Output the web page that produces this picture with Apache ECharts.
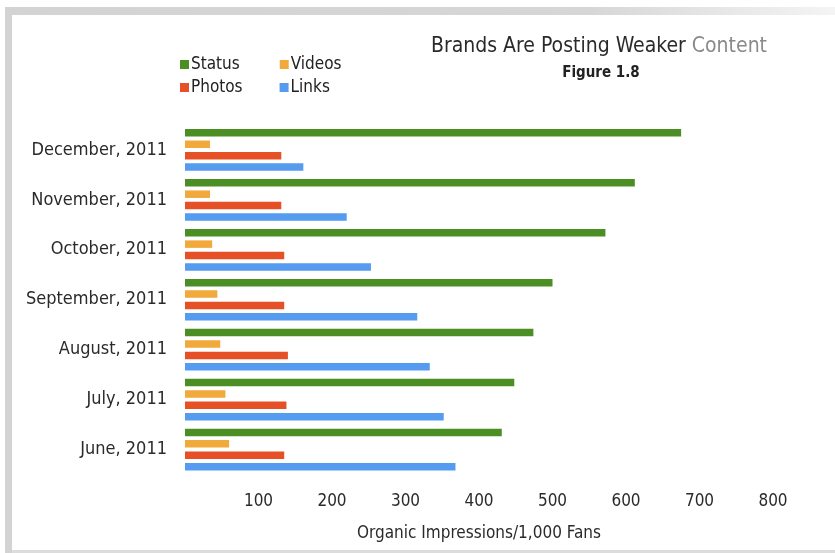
<!DOCTYPE html>
<html>
<head>
<meta charset="utf-8">
<script src="https://cdn.jsdelivr.net/npm/echarts@6/dist/echarts.min.js"></script>
<style>
  html, body { margin: 0; padding: 0; background: #fff; }
  #chart { width: 835px; height: 553px; }
</style>
</head>
<body>
<div id="chart"></div>
<script>
// Monthly organic impressions per 1,000 fans, by post type
const months = ['December, 2011', 'November, 2011', 'October, 2011', 'September, 2011',
                'August, 2011', 'July, 2011', 'June, 2011'];
const statusVals = [675, 612, 572, 500, 474, 448, 431];
const videoVals  = [34, 34, 37, 44, 48, 55, 60];
const photoVals  = [131, 131, 135, 135, 140, 138, 135];
const linkVals   = [161, 220, 253, 316, 333, 352, 368];
const seriesNames = ['Status', 'Videos', 'Photos', 'Links'];
const tickMax = 800;

const FONT = "'Liberation Sans Narrow', 'DejaVu Sans Condensed', 'Liberation Sans', sans-serif";
const colors = { Status: '#4b8f24', Videos: '#f2a93b', Photos: '#e55026', Links: '#559bf0' };

const chart = echarts.init(document.getElementById('chart'), null, { renderer: 'canvas' });

const valuesByName = { Status: statusVals, Videos: videoVals, Photos: photoVals, Links: linkVals };

const legendText = { color: '#222', fontFamily: FONT, fontSize: 17, padding: [0, 0, 0, -3] };

chart.setOption({
  animation: false,
  backgroundColor: '#fff',
  graphic: [
    // frame: top bar fading out to the right, left bar, thin bottom rule
    { type: 'rect', shape: { x: 5, y: 7, width: 830, height: 8 },
      style: { fill: new echarts.graphic.LinearGradient(0, 0, 1, 0, [
        { offset: 0, color: '#d3d3d3' }, { offset: 0.7, color: '#d6d6d6' }, { offset: 1, color: '#f4f4f4' }]) },
      silent: true, z: -1 },
    { type: 'rect', shape: { x: 5, y: 7, width: 7, height: 546 }, style: { fill: '#d3d3d3' }, silent: true, z: -1 },
    { type: 'rect', shape: { x: 12, y: 550, width: 823, height: 3 }, style: { fill: '#dcdcdc' }, silent: true, z: -1 }
  ],
  title: [
    { text: '{a|Brands Are Posting Weaker }{b|Content}',
      left: 594, top: 31, textAlign: 'center',
      textStyle: { rich: {
        a: { fontFamily: FONT, fontSize: 21, fontWeight: 'normal', color: '#2a2a2a' },
        b: { fontFamily: FONT, fontSize: 21, fontWeight: 'normal', color: '#8a8a8a' } } } },
    { text: 'Figure 1.8', left: 596, top: 61, textAlign: 'center',
      textStyle: { fontFamily: FONT, fontSize: 15, fontWeight: 'bold', color: '#222' } }
  ],
  legend: [
    { data: ['Status', 'Videos'], left: 175, top: 51, itemWidth: 9, itemHeight: 9, itemGap: 40,
      icon: 'rect', textStyle: legendText },
    { data: ['Photos', 'Links'], left: 175, top: 74, itemWidth: 9, itemHeight: 9, itemGap: 37,
      icon: 'rect', textStyle: legendText }
  ],
  grid: { left: 185, right: 62, top: 125, bottom: 78.5, containLabel: false },
  xAxis: {
    type: 'value', min: 0, max: tickMax, interval: 100,
    axisLine: { show: false }, axisTick: { show: false }, splitLine: { show: false },
    axisLabel: {
      showMinLabel: false, margin: 19, fontFamily: FONT, fontSize: 17,
      color: v => (v === tickMax ? '#aaaaaa' : '#2a2a2a')
    },
    name: 'Organic Impressions/1,000 Fans', nameLocation: 'middle', nameGap: 51,
    nameTextStyle: { fontFamily: FONT, fontSize: 17, color: '#2a2a2a' }
  },
  yAxis: {
    type: 'category', data: months, inverse: true,
    axisLine: { show: false }, axisTick: { show: false },
    axisLabel: { margin: 18, fontFamily: FONT, fontSize: 18, color: '#2a2a2a' }
  },
  series: seriesNames.map(name => ({
    name, type: 'bar', data: valuesByName[name],
    barWidth: 7.5, barGap: '52%',
    itemStyle: { color: colors[name] }
  }))
});
</script>
</body>
</html>
